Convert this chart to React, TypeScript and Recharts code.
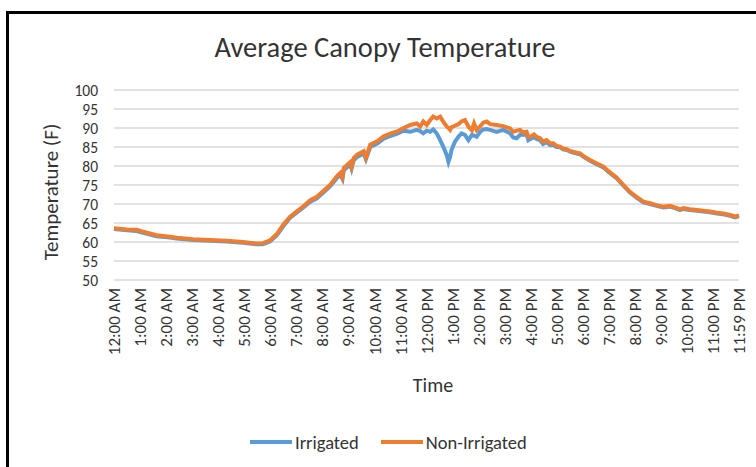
import { LineChart, Line, XAxis, YAxis, CartesianGrid } from 'recharts';

// minutes after midnight
const times = [
  0, 30, 52, 67, 98, 129, 144, 182, 221, 259, 297, 329, 343, 359, 375, 390, 405, 421, 436, 452,
  467, 482, 498, 513, 521, 526, 529, 544, 547, 552, 560, 575, 580, 590, 606, 621, 636, 652, 667, 682,
  697, 705, 712, 720, 728, 735, 743, 751, 758, 766, 770, 774, 777, 785, 793, 800, 808, 816, 824, 829,
  835, 843, 850, 858, 866, 881, 896, 912, 919, 927, 935, 942, 950, 954, 960, 967, 973, 981, 988, 996,
  1004, 1011, 1019, 1027, 1034, 1042, 1050, 1065, 1073, 1081, 1096, 1111, 1127, 1142, 1157, 1173, 1188, 1203, 1219, 1234,
  1249, 1265, 1280, 1295, 1303, 1311, 1326, 1342, 1357, 1372, 1388, 1403, 1418, 1430, 1439,
];

const irrigated = [
  63.4, 63.1, 62.9, 62.4, 61.5, 61.2, 60.9, 60.5, 60.3, 60.1, 59.8, 59.4, 59.4, 60.1, 61.8, 64.2, 66.3, 67.8, 69.1, 70.6,
  71.5, 73.0, 74.7, 76.8, 77.7, 76.6, 78.9, 80.4, 79.3, 81.5, 82.4, 83.3, 81.8, 85.0, 85.9, 87.2, 87.9, 88.5, 89.3, 89.0,
  89.5, 89.2, 88.6, 89.3, 89.0, 89.6, 88.6, 86.8, 85.1, 82.9, 81.1, 82.5, 84.2, 86.4, 87.7, 88.6, 88.2, 86.8, 88.2, 88.0,
  87.7, 89.0, 89.6, 89.7, 89.5, 89.0, 89.5, 88.6, 87.5, 87.3, 88.2, 88.2, 88.3, 86.8, 87.2, 87.6, 87.1, 86.8, 85.8, 86.3,
  85.5, 85.6, 85.0, 84.9, 84.4, 84.2, 83.8, 83.3, 83.1, 82.4, 81.4, 80.5, 79.6, 78.1, 76.8, 74.8, 73.0, 71.7, 70.4, 70.0,
  69.5, 69.1, 69.3, 68.8, 68.4, 68.7, 68.4, 68.2, 68.0, 67.8, 67.5, 67.3, 66.9, 66.5, 66.8,
];

const nonIrrigated = [
  63.6, 63.3, 63.2, 62.7, 61.8, 61.4, 61.1, 60.7, 60.5, 60.3, 60.0, 59.6, 59.7, 60.4, 62.1, 64.6, 66.6, 68.1, 69.4, 71.0,
  71.9, 73.4, 75.1, 77.3, 78.2, 77.0, 79.5, 81.0, 79.8, 82.1, 83.0, 83.9, 82.2, 85.6, 86.5, 87.8, 88.5, 89.1, 90.0, 90.8,
  91.2, 90.4, 91.7, 90.8, 92.1, 93.0, 92.5, 93.0, 91.7, 90.4, 90.0, 89.5, 90.2, 90.6, 91.0, 91.7, 92.1, 90.4, 89.4, 91.2,
  89.5, 90.4, 91.4, 91.7, 91.0, 90.8, 90.5, 89.9, 89.0, 89.3, 89.5, 88.8, 89.0, 87.7, 87.8, 88.3, 87.7, 87.3, 86.4, 86.8,
  86.0, 86.0, 85.3, 85.1, 84.6, 84.4, 84.0, 83.5, 83.3, 82.6, 81.6, 80.7, 79.8, 78.3, 77.0, 75.0, 73.2, 71.9, 70.6, 70.2,
  69.7, 69.3, 69.5, 69.0, 68.6, 68.9, 68.6, 68.4, 68.2, 68.0, 67.7, 67.5, 67.1, 66.7, 67.0,
];

const tickMinutes = [0, 60, 120, 180, 240, 300, 360, 420, 480, 540, 600, 660, 720, 780, 840, 900, 960, 1020, 1080, 1140, 1200, 1260, 1320, 1380, 1439];
const tickLabels = [
  '12:00 AM', '1:00 AM', '2:00 AM', '3:00 AM', '4:00 AM', '5:00 AM', '6:00 AM', '7:00 AM', '8:00 AM', '9:00 AM',
  '10:00 AM', '11:00 AM', '12:00 PM', '1:00 PM', '2:00 PM', '3:00 PM', '4:00 PM', '5:00 PM', '6:00 PM', '7:00 PM',
  '8:00 PM', '9:00 PM', '10:00 PM', '11:00 PM', '11:59 PM',
];
const tempTicks = [50, 55, 60, 65, 70, 75, 80, 85, 90, 95, 100];

const BLUE = '#5B9BD5';
const ORANGE = '#ED7D31';
const FONT = 'Carlito, Lato, sans-serif';
const TEXT = '#333333';

const data = times.map((t, i) => ({ t, irrigated: irrigated[i], nonIrrigated: nonIrrigated[i] }));

const TimeTick = ({ x, y, payload }: any) => {
  const idx = tickMinutes.indexOf(payload.value);
  return (
    <text x={x} y={y} transform={`rotate(-90, ${x}, ${y})`} textAnchor="end" dy="0.35em"
      fontFamily={FONT} fontSize={17} fill={TEXT}>
      {tickLabels[idx]}
    </text>
  );
};

const TempTick = ({ x, y, payload }: any) => (
  <text x={x} y={y} textAnchor="end" dy="0.36em" fontFamily={FONT} fontSize={15.5} fill={TEXT}>
    {payload.value}
  </text>
);

export default function App() {
  return (
    <div style={{ position: 'absolute', left: 0, top: 0, width: 756, height: 467, overflow: 'hidden', background: '#fff', fontFamily: FONT, color: TEXT }}>
      <div style={{ position: 'absolute', left: 6, top: 11, width: 800, height: 500, borderTop: '3px solid #000', borderLeft: '3px solid #000' }} />
      <div style={{ position: 'absolute', left: 0, width: 770, top: 29, textAlign: 'center', fontSize: 28.5, lineHeight: '38px' }}>
        Average Canopy Temperature
      </div>
      <div style={{ position: 'absolute', left: 0, top: 0 }}>
        <LineChart width={756} height={467} data={data} margin={{ top: 90, right: 17, left: 0, bottom: 0 }}>
          <CartesianGrid vertical={false} stroke="#D9D9D9" strokeWidth={1.3} />
          <XAxis dataKey="t" type="number" domain={[0, 1439]} ticks={tickMinutes} interval={0}
            axisLine={false} tickLine={false} tickSize={0} tickMargin={8} height={187} tick={<TimeTick />} />
          <YAxis type="number" domain={[50, 100]} ticks={tempTicks} interval={0} width={114}
            axisLine={false} tickLine={false} tickSize={0} tickMargin={16} tick={<TempTick />} />
          <Line type="linear" dataKey="irrigated" stroke={BLUE} strokeWidth={4} dot={false} isAnimationActive={false} />
          <Line type="linear" dataKey="nonIrrigated" stroke={ORANGE} strokeWidth={4} dot={false} isAnimationActive={false} />
        </LineChart>
      </div>
      <div style={{ position: 'absolute', left: 51, top: 192, transform: 'translate(-50%, -50%) rotate(-90deg)', whiteSpace: 'nowrap', fontSize: 21, lineHeight: '26px' }}>
        Temperature (F)
      </div>
      <div style={{ position: 'absolute', left: 433, top: 385, transform: 'translate(-50%, -50%)', fontSize: 20, lineHeight: '26px' }}>
        Time
      </div>
      <div style={{ position: 'absolute', left: 250, top: 429, height: 26, display: 'flex', alignItems: 'center', fontSize: 18.5, whiteSpace: 'nowrap' }}>
        <span style={{ display: 'inline-block', width: 42, height: 4, background: BLUE, marginRight: 3 }} />
        <span>Irrigated</span>
        <span style={{ display: 'inline-block', width: 42, height: 4, background: ORANGE, marginLeft: 22, marginRight: 3 }} />
        <span>Non-Irrigated</span>
      </div>
    </div>
  );
}
